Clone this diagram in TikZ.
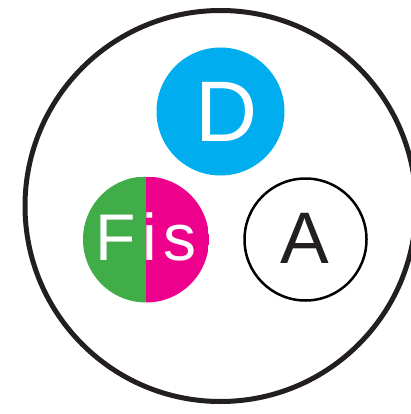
\documentclass[tikz,border=0pt]{standalone}
\usepackage{fontspec}
\setmainfont{Liberation Sans}
\definecolor{dblue}{HTML}{00AEEF}
\definecolor{fisgreen}{HTML}{41AD49}
\definecolor{fismag}{HTML}{EC008C}
\definecolor{darkline}{HTML}{231F20}
\begin{document}
\begin{tikzpicture}[x=1pt,y=-1pt,
  outerring/.style={circle, draw=darkline, line width=5pt, minimum size=391pt, inner sep=0pt},
  ball/.style={circle, minimum size=#1, inner sep=0pt},
  lbl/.style={anchor=base, inner sep=0pt}]
\useasboundingbox (0,0) rectangle (411,414);
\clip (0,0) rectangle (411,414);
\node (outer) [outerring] at (220.5,206) {};
\node (d) [ball=128pt, fill=dblue] at (220.5,111.5) {};
\node (fis) [ball=126pt, path picture={
   \fill[fisgreen] (path picture bounding box.south west) rectangle (path picture bounding box.north);
   \fill[fismag] (path picture bounding box.south) rectangle (path picture bounding box.north east);}] at (146,239.5) {};
\node (a) [ball=122pt, draw=black, line width=2.5pt] at (305.5,239.5) {};
\node (dl) [lbl, text=white] at (226.5,142) {\fontsize{86}{86}\selectfont D};
\node (fisl) [lbl, text=white] at (146,260) {\fontsize{66}{66}\selectfont\addfontfeature{LetterSpace=10}Fis};
\node (al) [lbl, text=darkline] at (305,263) {\fontsize{73}{73}\selectfont A};
\end{tikzpicture}
\end{document}
